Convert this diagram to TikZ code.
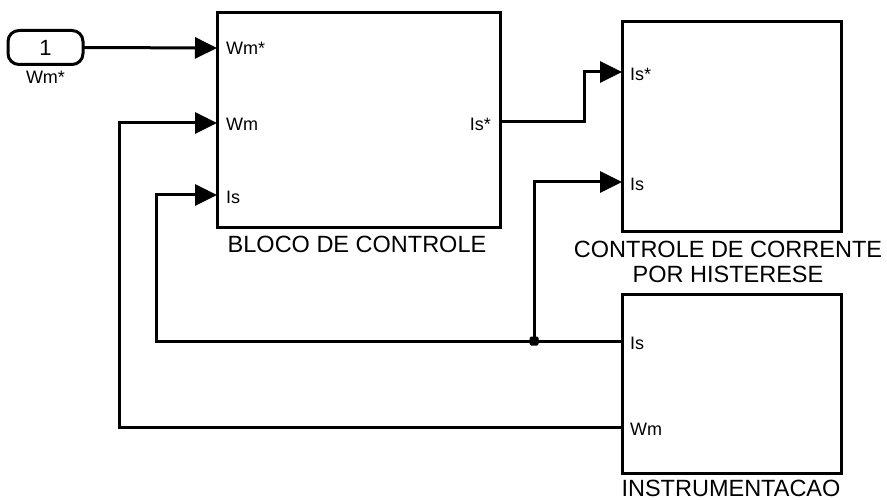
\documentclass[tikz,border=0pt]{standalone}
\usepackage{fontspec}
\setmainfont{Liberation Sans}
\usetikzlibrary{arrows.meta}
\begin{document}
\begin{tikzpicture}[x=1pt,y=-1pt,
  blk/.style={draw, line width=3pt, inner sep=0pt, outer sep=0pt},
  inport/.style={draw, line width=3pt, rounded corners=11pt, inner sep=0pt, outer sep=0pt,
    minimum width=75pt, minimum height=34pt, font=\fontsize{22}{22}\selectfont},
  wire/.style={line width=3pt},
  sig/.style={wire, -{Triangle[length=22pt,width=21pt]}},
  portlbl/.style={font=\fontsize{18}{18}\selectfont, inner sep=0pt},
  lbl/.style={font=\fontsize{23.5}{24.5}\selectfont, align=center, inner sep=0pt},
  junction/.style={fill, rectangle, rounded corners=1.5pt, minimum size=9pt, inner sep=0pt},
]
\useasboundingbox (0,0) rectangle (887,500);

% blocks
\node[inport] (in) at (45.5,47.5) {1};
\node[portlbl] (inlbl) at (45.5,77) {Wm*};

\node[blk, minimum width=283pt, minimum height=215pt] (ctl) at (358.5,120.5) {};
\node[lbl] (ctllbl) at (357,244) {BLOCO DE CONTROLE};

\node[blk, minimum width=219pt, minimum height=210pt] (hys) at (731.5,127) {};
\node[lbl] (hyslbl) at (728,262) {CONTROLE DE CORRENTE\\POR HISTERESE};

\node[blk, minimum width=219pt, minimum height=179pt] (ins) at (731.5,383.5) {};
\node[lbl] (inslbl) at (731,488) {INSTRUMENTACAO};

% ports
\coordinate (ctlA) at (217,48);
\coordinate (ctlB) at (217,123);
\coordinate (ctlC) at (217,195);
\coordinate (ctlO) at (500,122);
\coordinate (hysA) at (622,72);
\coordinate (hysB) at (622,182);
\coordinate (insA) at (622,341);
\coordinate (insB) at (622,427);

% port labels
\node[portlbl, anchor=west] (lA) at (226,48) {Wm*};
\node[portlbl, anchor=west] (lB) at (226,124) {Wm};
\node[portlbl, anchor=west] (lC) at (226,197) {Is};
\node[portlbl, anchor=east] (lO) at (491,124) {Is*};
\node[portlbl, anchor=west] (lD) at (630,74) {Is*};
\node[portlbl, anchor=west] (lE) at (630,184) {Is};
\node[portlbl, anchor=west] (lF) at (630,343) {Is};
\node[portlbl, anchor=west] (lG) at (630,429) {Wm};

% bends
\coordinate (bO) at (584,122);
\coordinate (bIs) at (156,341);
\coordinate (bWm) at (119,427);
\coordinate (jn) at (534,341);

% wires
\draw[sig] (in.east) -- (ctlA);
\draw[sig] (ctlO) -- (bO) |- (hysA);
\draw[sig] (insA) -- (bIs) |- (ctlC);
\draw[sig] (jn) |- (hysB);
\draw[sig] (insB) -- (bWm) |- (ctlB);
\node[junction] (jdot) at (jn) {};
\end{tikzpicture}
\end{document}
